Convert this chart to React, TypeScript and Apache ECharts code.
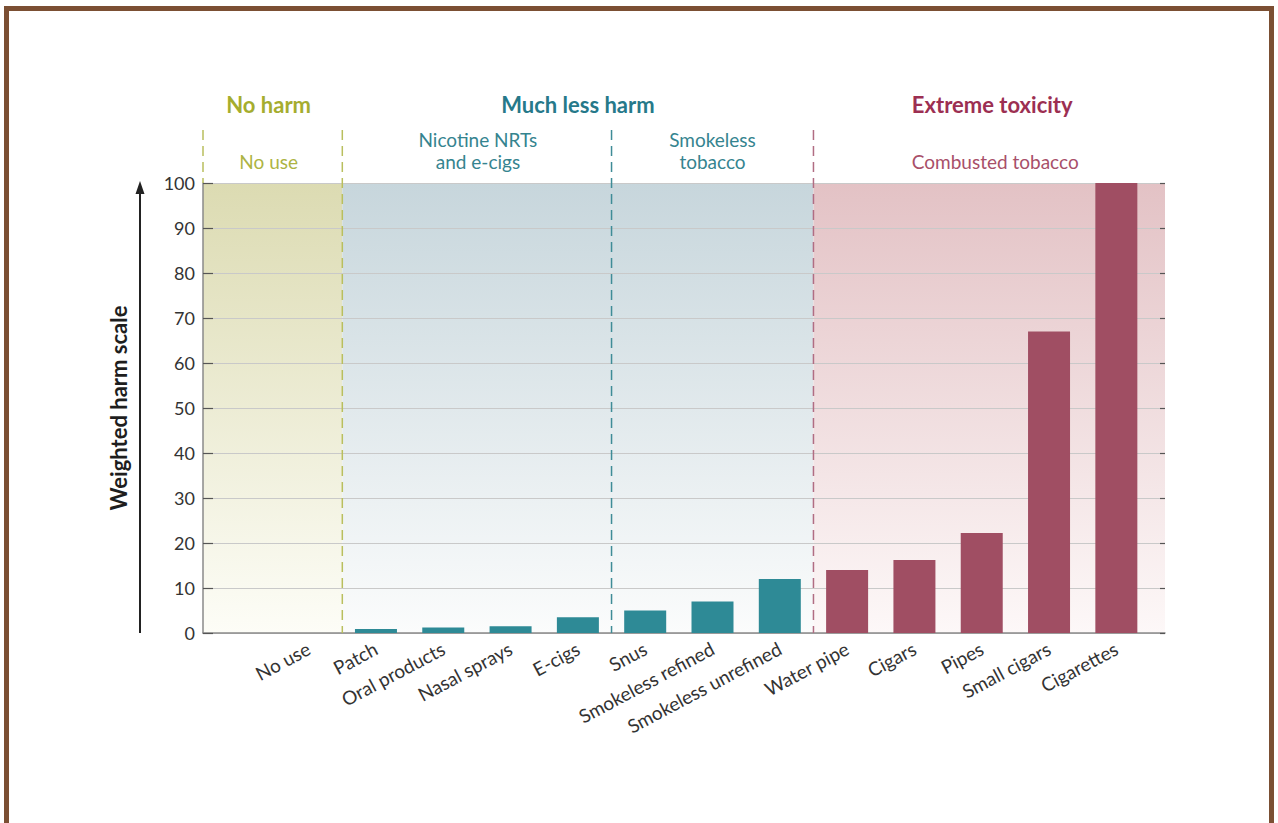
import React, { useEffect, useRef } from "react";
import * as echarts from "echarts";

// ---------- data ----------
const categories = [
  "No use",
  "Patch",
  "Oral products",
  "Nasal sprays",
  "E-cigs",
  "Snus",
  "Smokeless refined",
  "Smokeless unrefined",
  "Water pipe",
  "Cigars",
  "Pipes",
  "Small cigars",
  "Cigarettes",
];
const harmValues = [0, 0.9, 1.2, 1.5, 3.5, 5.0, 7.0, 12.0, 14.0, 16.2, 22.2, 67.0, 100];
const productGroups = [
  "none",
  "nrt",
  "nrt",
  "nrt",
  "nrt",
  "smokeless",
  "smokeless",
  "smokeless",
  "combusted",
  "combusted",
  "combusted",
  "combusted",
  "combusted",
];
const harmTitles = ["No harm", "Much less harm", "Extreme toxicity"];
const groupTitles = [["No use"], ["Nicotine NRTs", "and e-cigs"], ["Smokeless", "tobacco"], ["Combusted tobacco"]];
const yAxisTitle = "Weighted harm scale";
const yMin = 0;
const yMax = 100;
const yStep = 10;

// ---------- style ----------
const FONT = "Lato, 'Open Sans', sans-serif";
const OLIVE = "#a5ad2e";
const OLIVE_SUB = "#adb444";
const TEAL = "#26798a";
const TEAL_SUB = "#35848f";
const MAROON = "#9c2f52";
const MAROON_SUB = "#a84f69";
const BAR_COLORS: Record<string, string> = {
  none: "#2e8a96",
  nrt: "#2e8a96",
  smokeless: "#2e8a96",
  combusted: "#a04e63",
};

// layout (pixels)
const W = 1278;
const H = 823;
const PLOT_L = 203;
const PLOT_R = 1165;
const PLOT_T = 183;
const PLOT_B = 633;
const BAR_L = 275;
const BAR_R = 1150;
const HEAD_T = 130;

export default function App() {
  const ref = useRef<HTMLDivElement>(null);

  useEffect(() => {
    if (!ref.current) return;
    const chart = echarts.init(ref.current, undefined, { renderer: "svg" });

    const bandW = (BAR_R - BAR_L) / categories.length;
    const edge = (k: number) => BAR_L + k * bandW;
    const grad = (top: string, bottom: string) =>
      new echarts.graphic.LinearGradient(0, 0, 0, 1, [
        { offset: 0, color: top },
        { offset: 1, color: bottom },
      ]);

    const zones = [
      { x0: PLOT_L, x1: edge(1), fill: grad("#dcdbb2", "#fdfdf7") },
      { x0: edge(1), x1: edge(8), fill: grad("#c7d6dc", "#fbfcfc") },
      { x0: edge(8), x1: PLOT_R, fill: grad("#e3c2c5", "#fdf8f8") },
    ];

    const dashLines = [
      { x: PLOT_L, y0: HEAD_T, y1: PLOT_T, color: "#b9bf5e" },
      { x: edge(1), y0: HEAD_T, y1: PLOT_B, color: "#b9bf5e" },
      { x: edge(5), y0: HEAD_T, y1: PLOT_B, color: "#3f8c97" },
      { x: edge(8), y0: HEAD_T, y1: PLOT_B, color: "#b16d83" },
    ];

    const graphics: any[] = [];
    zones.forEach((z) => {
      graphics.push({
        type: "rect",
        z: -10,
        silent: true,
        shape: { x: z.x0, y: PLOT_T, width: z.x1 - z.x0, height: PLOT_B - PLOT_T },
        style: { fill: z.fill },
      });
    });
    dashLines.forEach((d) => {
      graphics.push({
        type: "line",
        z: 5,
        silent: true,
        shape: { x1: d.x, y1: d.y0, x2: d.x, y2: d.y1 },
        style: { stroke: d.color, lineWidth: 1.5, lineDash: [10, 6] },
      });
    });

    const headCenters = [
      (PLOT_L + edge(1)) / 2 - 4,
      (edge(1) + edge(8)) / 2,
      (edge(8) + PLOT_R) / 2 + 3,
    ];
    const headColors = [OLIVE, TEAL, MAROON];
    harmTitles.forEach((t, i) => {
      graphics.push({
        type: "text",
        z: 10,
        x: headCenters[i],
        y: 104,
        style: {
          text: t,
          fill: headColors[i],
          font: `bold 22px ${FONT}`,
          align: "center",
          verticalAlign: "middle",
        },
      });
    });
    const subCenters = [
      (PLOT_L + edge(1)) / 2 - 4,
      (edge(1) + edge(5)) / 2 + 1,
      (edge(5) + edge(8)) / 2,
      (edge(8) + PLOT_R) / 2 + 6,
    ];
    const subColors = [OLIVE_SUB, TEAL_SUB, TEAL_SUB, MAROON_SUB];
    groupTitles.forEach((lines, i) => {
      lines.forEach((ln, j) => {
        const y = lines.length === 1 ? 161 : 139 + j * 22;
        graphics.push({
          type: "text",
          z: 10,
          x: subCenters[i],
          y,
          style: {
            text: ln,
            fill: subColors[i],
            font: `19px ${FONT}`,
            align: "center",
            verticalAlign: "middle",
          },
        });
      });
    });

    // arrow next to y axis title
    graphics.push({
      type: "line",
      z: 10,
      shape: { x1: 140, y1: PLOT_B, x2: 140, y2: 192 },
      style: { stroke: "#222", lineWidth: 2 },
    });
    graphics.push({
      type: "polygon",
      z: 10,
      shape: { points: [[140, 181], [135.5, 194], [144.5, 194]] },
      style: { fill: "#222" },
    });

    // frame
    graphics.push({
      type: "rect",
      z: 20,
      silent: true,
      shape: { x: 6.5, y: 8.5, width: 1265, height: 817 },
      style: { fill: "none", stroke: "#7b4f33", lineWidth: 5 },
    });

    const option: any = {
      animation: false,
      backgroundColor: "#ffffff",
      textStyle: { fontFamily: FONT },
      grid: [
        { left: PLOT_L, top: PLOT_T, width: PLOT_R - PLOT_L, height: PLOT_B - PLOT_T },
        { left: BAR_L, top: PLOT_T, width: BAR_R - BAR_L, height: PLOT_B - PLOT_T },
      ],
      xAxis: [
        {
          type: "value",
          gridIndex: 0,
          min: 0,
          max: 1,
          axisLine: { show: true, lineStyle: { color: "#8a8a8a", width: 1.5 } },
          axisTick: { show: false },
          axisLabel: { show: false },
          splitLine: { show: false },
        },
        {
          type: "category",
          gridIndex: 1,
          data: categories,
          axisLine: { show: false },
          axisTick: { show: false },
          axisLabel: {
            rotate: 28,
            margin: 14,
            interval: 0,
            fontSize: 19,
            color: "#333",
            fontFamily: FONT,
          },
        },
      ],
      yAxis: [
        {
          type: "value",
          gridIndex: 0,
          min: yMin,
          max: yMax,
          interval: yStep,
          name: yAxisTitle,
          nameLocation: "middle",
          nameGap: 74,
          nameTextStyle: { fontSize: 22, fontWeight: "bold", color: "#1e1e1e", fontFamily: FONT },
          axisLine: { show: true, lineStyle: { color: "#8a8a8a", width: 1.5 } },
          axisTick: { show: true, inside: true, length: 10, lineStyle: { color: "#555", width: 1.2 } },
          axisLabel: { fontSize: 18, color: "#333", margin: 8, fontFamily: FONT },
          splitLine: { show: true, lineStyle: { color: "#c9c9c9", width: 1 } },
        },
        {
          type: "value",
          gridIndex: 0,
          position: "right",
          min: yMin,
          max: yMax,
          interval: yStep,
          axisLine: { show: false },
          axisTick: { show: true, inside: true, length: 5, lineStyle: { color: "#555", width: 1.2 } },
          axisLabel: { show: false },
          splitLine: { show: false },
        },
        {
          type: "value",
          gridIndex: 1,
          min: yMin,
          max: yMax,
          show: false,
        },
      ],
      series: [
        {
          type: "line",
          xAxisIndex: 0,
          yAxisIndex: 0,
          data: [],
          silent: true,
        },
        {
          type: "bar",
          xAxisIndex: 1,
          yAxisIndex: 2,
          barWidth: 42,
          z: 5,
          data: harmValues.map((v, i) => ({
            value: v,
            itemStyle: { color: BAR_COLORS[productGroups[i]] },
          })),
        },
      ],
      graphic: graphics,
    };

    chart.setOption(option);
    return () => chart.dispose();
  }, []);

  return (
    <div
      ref={ref}
      style={{ position: "fixed", left: 0, top: 0, width: W, height: H, background: "#fff" }}
    />
  );
}
